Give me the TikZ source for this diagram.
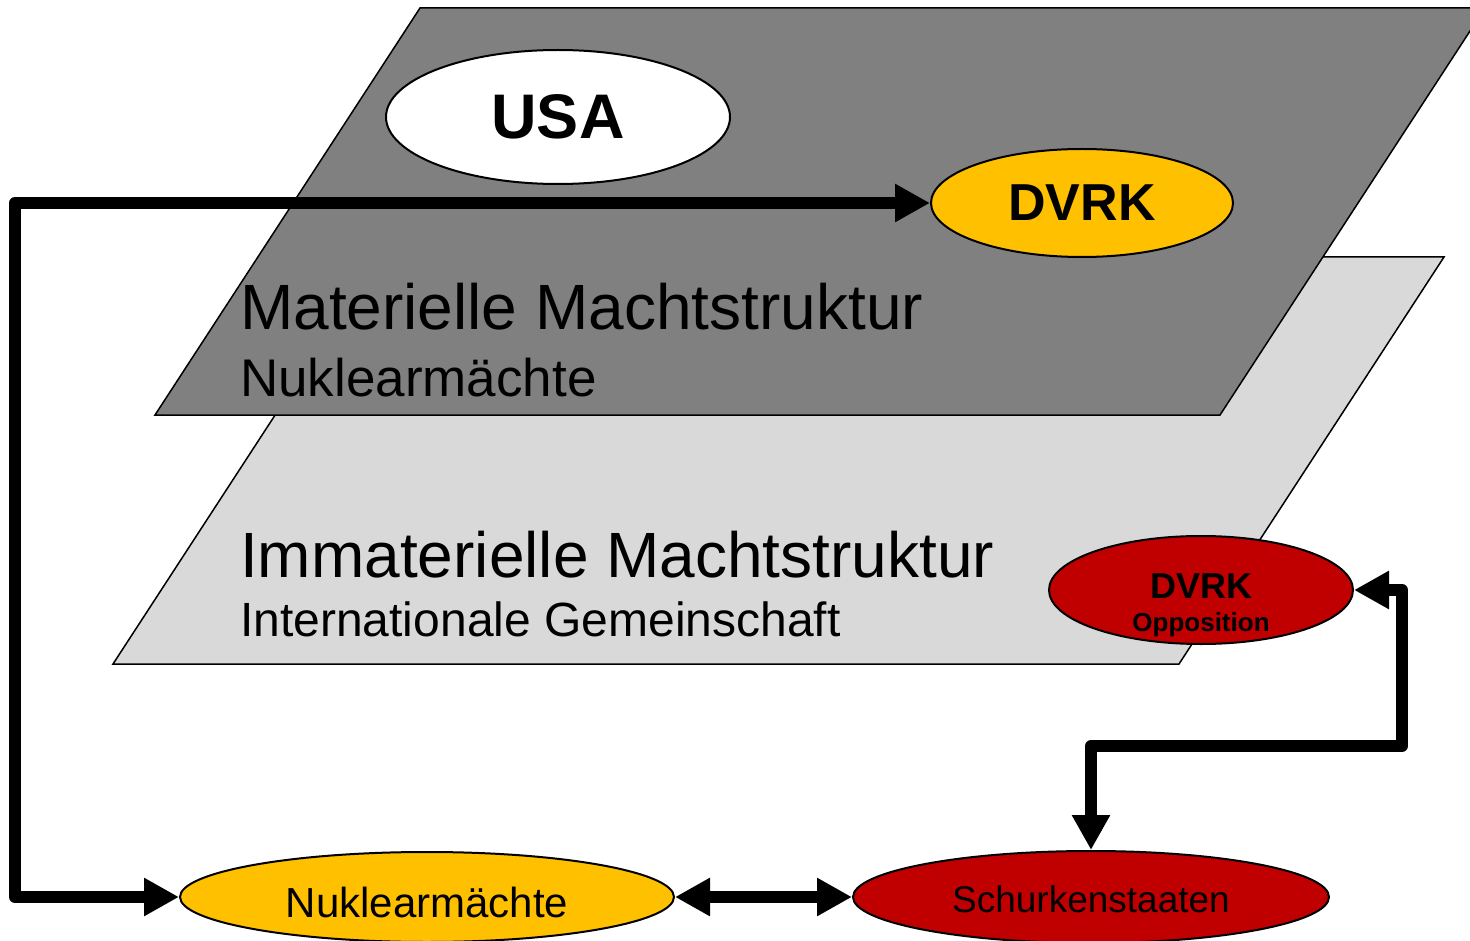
\documentclass[tikz,border=0pt]{standalone}
\usepackage{fontspec}
\setmainfont{Liberation Sans}
\usetikzlibrary{arrows.meta,shapes.geometric}
\definecolor{planedark}{HTML}{808080}
\definecolor{planelight}{HTML}{D9D9D9}
\definecolor{amber}{HTML}{FFC000}
\definecolor{crimson}{HTML}{C00000}

\begin{document}
\begin{tikzpicture}[x=1pt,y=-1pt,
  plane/.style={draw=black,line width=1.5pt,line join=miter},
  blob/.style={ellipse,draw=black,line width=2pt,inner sep=0pt},
  fs/.style={font=\fontsize{#1}{#1}\selectfont},
  fsb/.style={font=\fontsize{#1}{#1}\selectfont\bfseries},
  link/.style={line width=12pt,line join=round,
    {Triangle[length=35pt,width=36pt]}-{Triangle[length=35pt,width=36pt]}},
  caption/.style={anchor=base west,inner sep=0pt},
  inlabel/.style={anchor=base,inner sep=0pt}
]
\useasboundingbox (0,0) rectangle (1470,941);
\clip (0,0) rectangle (1470,941);

% lower plane: immaterial power structure
\filldraw[plane,fill=planelight] (378,257) -- (1444,257) -- (1179,664) -- (113,664) -- cycle;
\node[caption,fs=64] (immat) at (240,577) {Immaterielle Machtstruktur};
\node[caption,fs=48] (intl) at (240,636) {Internationale Gemeinschaft};
\node[blob,fill=crimson,minimum width=304pt,minimum height=108pt] (opp) at (1201,590) {};
\node[inlabel,fsb=36] (oppa) at (1201,598) {DVRK};
\node[inlabel,fsb=26] (oppb) at (1201,631) {Opposition};

% upper plane: material power structure
\filldraw[plane,fill=planedark] (420,8) -- (1485,8) -- (1220,415) -- (155,415) -- cycle;
\node[caption,fs=64] (mat) at (240,330) {Materielle Machtstruktur};
\node[caption,fs=53] (nuksub) at (240,396) {Nuklearmächte};
\node[blob,fill=white,minimum width=344pt,minimum height=134pt,fsb=63] (usa) at (558,117) {USA};
\node[blob,fill=amber,minimum width=302pt,minimum height=108pt,fsb=52] (dvrk) at (1082,203) {DVRK};

% bottom row
\node[blob,fill=amber,minimum width=494pt,minimum height=90pt] (nuk) at (427,897) {};
\node[inlabel,fs=42] (nuklabel) at (427,917) {Nuklearmächte};
\node[blob,fill=crimson,minimum width=476pt,minimum height=92pt] (sch) at (1091,897) {};
\node[inlabel,fs=37] (schlabel) at (1091,912) {Schurkenstaaten};

% connectors
\coordinate (lc) at (15,203);
\coordinate (rc) at (1402,746);
\draw[link] (nuk.west) -| (lc) -- (dvrk.west);
\draw[link] (nuk.east) -- (sch.west);
\draw[link] (opp.east) -| (rc) -| (sch.north);
\end{tikzpicture}
\end{document}
